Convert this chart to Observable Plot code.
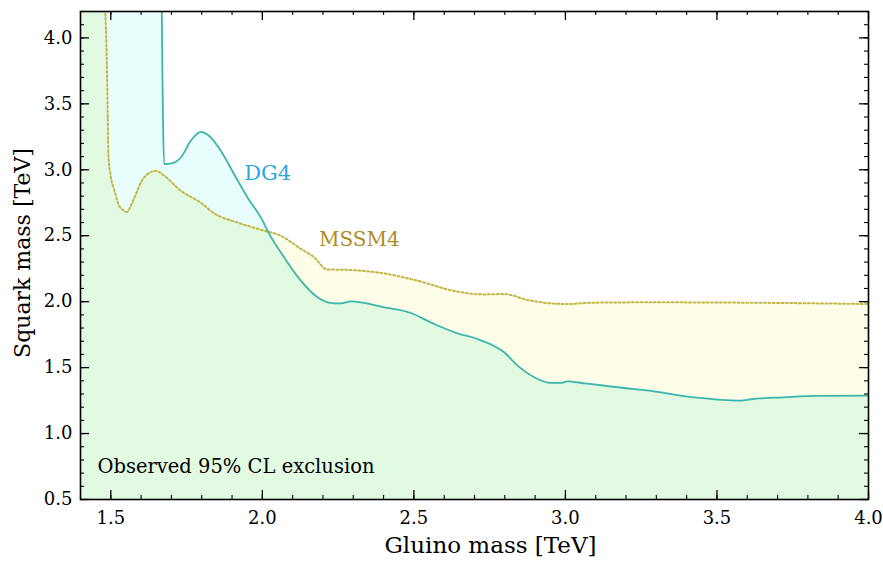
<!DOCTYPE html>
<html><head>
<meta charset="utf-8">
<script src="https://cdn.jsdelivr.net/npm/d3@7"></script>
<script src="https://cdn.jsdelivr.net/npm/@observablehq/plot@0.6"></script>
<style>body{margin:0;background:#fff;} #chart svg{display:block;}</style>
</head><body><div id="chart"></div>
<script>
// DG4 observed exclusion contour (gluino mass, squark mass) in TeV
const dg4X = [1.668, 1.676, 1.700, 1.731, 1.764, 1.797, 1.824, 1.863, 1.906, 1.951, 2.001, 2.017, 2.072, 2.127, 2.182, 2.237, 2.259, 2.292, 2.402, 2.490, 2.567, 2.644, 2.710, 2.760, 2.798, 2.842, 2.897, 2.952, 2.985, 3.007, 3.062, 3.172, 3.315, 3.392, 3.502, 3.579, 3.612, 3.722, 3.832, 4.0];
const dg4Y = [4.25, 3.043, 3.048, 3.093, 3.220, 3.288, 3.258, 3.144, 2.970, 2.790, 2.614, 2.538, 2.336, 2.159, 2.033, 1.987, 1.987, 2.002, 1.957, 1.914, 1.831, 1.760, 1.717, 1.670, 1.616, 1.515, 1.427, 1.384, 1.384, 1.396, 1.381, 1.351, 1.313, 1.283, 1.258, 1.250, 1.260, 1.275, 1.286, 1.288];
// MSSM4 observed exclusion contour
const mssmX = [1.481, 1.487, 1.490, 1.492, 1.500, 1.511, 1.525, 1.544, 1.553, 1.566, 1.580, 1.599, 1.621, 1.649, 1.676, 1.731, 1.797, 1.841, 1.918, 2.006, 2.061, 2.127, 2.171, 2.213, 2.292, 2.402, 2.512, 2.644, 2.732, 2.798, 2.875, 2.952, 3.007, 3.084, 3.282, 3.612, 3.832, 4.0];
const mssmY = [4.25, 3.80, 3.40, 3.12, 2.95, 2.85, 2.74, 2.689, 2.680, 2.727, 2.800, 2.904, 2.967, 2.992, 2.955, 2.841, 2.750, 2.670, 2.600, 2.538, 2.500, 2.400, 2.336, 2.245, 2.240, 2.214, 2.159, 2.076, 2.055, 2.058, 2.013, 1.987, 1.982, 1.992, 1.995, 1.992, 1.987, 1.982];

const seriesNames = ["DG4", "MSSM4"];
const noteText = ["Observed 95% CL exclusion"];
const xTitle = ["Gluino mass [TeV]"];
const yTitle = ["Squark mass [TeV]"];
const xDomain = [1.4, 4.0];
const yDomain = [0.5, 4.2];
const xMajor = [1.5, 2.0, 2.5, 3.0, 3.5, 4.0];
const yMajor = [0.5, 1.0, 1.5, 2.0, 2.5, 3.0, 3.5, 4.0];
const xMinor = d3.range(14, 41).map(d => d / 10);
const yMinor = d3.range(5, 43).map(d => d / 10);

const toPts = (xs, ys) => xs.map((x, i) => ({x, y: ys[i]}));
const dg4 = toPts(dg4X, dg4Y);
const mssm = toPts(mssmX, mssmY);
// fill regions extend to the left edge of the plot
const dg4Fill = [{x: xDomain[0], y: dg4Y[0]}, ...dg4];
const mssmFill = [{x: xDomain[0], y: mssmY[0]}, ...mssm];

const W = 883, H = 561, mT = 11, mB = 62, mL = 80, mR = 15;
const ph = H - mT - mB, pw = W - mL - mR;
const font = "'DejaVu Serif', 'Liberation Serif', serif";
const curve = "monotone-x";

const chart = Plot.plot({
  width: W, height: H,
  marginTop: mT, marginBottom: mB, marginLeft: mL, marginRight: mR,
  style: {fontFamily: font, fontSize: "18px", color: "black", background: "white"},
  x: {domain: xDomain},
  y: {domain: yDomain},
  marks: [
    Plot.areaY(mssmFill, {x: "x", y: "y", curve, fill: "#fefee8", clip: true}),
    Plot.areaY(dg4Fill, {x: "x", y: "y", curve, fill: "#e8fefd", clip: true}),
    Plot.areaY(dg4Fill, {x: "x", y: "y", curve, fill: "#e2fae2", clip: true}),
    Plot.line(mssm, {x: "x", y: "y", curve, stroke: "#c4b646", strokeWidth: 2, strokeDasharray: "2,2.4", clip: true}),
    Plot.line(dg4, {x: "x", y: "y", curve, stroke: "#3cb5aa", strokeWidth: 1.8, clip: true}),
    // ticks inward on four sides
    Plot.ruleX(xMinor, {x: d => d, insetTop: ph - 4, stroke: "black", strokeWidth: 1.1}),
    Plot.ruleX(xMinor, {x: d => d, insetBottom: ph - 4, stroke: "black", strokeWidth: 1.1}),
    Plot.ruleX(xMajor, {x: d => d, insetTop: ph - 9, stroke: "black", strokeWidth: 1.3}),
    Plot.ruleX(xMajor, {x: d => d, insetBottom: ph - 9, stroke: "black", strokeWidth: 1.3}),
    Plot.ruleY(yMinor, {y: d => d, insetRight: pw - 4, stroke: "black", strokeWidth: 1.1}),
    Plot.ruleY(yMinor, {y: d => d, insetLeft: pw - 4, stroke: "black", strokeWidth: 1.1}),
    Plot.ruleY(yMajor, {y: d => d, insetRight: pw - 9, stroke: "black", strokeWidth: 1.3}),
    Plot.ruleY(yMajor, {y: d => d, insetLeft: pw - 9, stroke: "black", strokeWidth: 1.3}),
    Plot.frame({stroke: "black", strokeWidth: 1.6}),
    Plot.axisX({ticks: xMajor, tickSize: 0, tickPadding: 12, tickFormat: d3.format(".1f"), fontSize: 18, label: null}),
    Plot.axisY({ticks: yMajor, tickSize: 0, tickPadding: 8, tickFormat: d3.format(".1f"), fontSize: 18, label: null}),
    Plot.text(xTitle, {frameAnchor: "bottom", lineAnchor: "middle", textAnchor: "middle", dx: 16, dy: 46, text: d => d, fontSize: 23, fill: "black"}),
    Plot.text(yTitle, {frameAnchor: "left", lineAnchor: "middle", textAnchor: "middle", rotate: -90, dx: -58, dy: -2.5, text: d => d, fontSize: 22, fill: "black"}),
    Plot.text([seriesNames[0]], {x: 1.94, y: 2.97, text: d => d, textAnchor: "start", fill: "#2aa7df", fontSize: 21}),
    Plot.text([seriesNames[1]], {x: 2.187, y: 2.47, text: d => d, textAnchor: "start", fill: "#b08b25", fontSize: 20}),
    Plot.text(noteText, {x: 1.456, y: 0.745, text: d => d, textAnchor: "start", fill: "black", fontSize: 19.5})
  ]
});
// overlap of both exclusions: DG4 region clipped to the MSSM4 region
const areas = chart.querySelectorAll("g[aria-label='area'] path");
if (areas.length >= 3) {
  const mssmPath = areas[0], overlapPath = areas[2];
  const ns = "http://www.w3.org/2000/svg";
  const defs = document.createElementNS(ns, "defs");
  const cp = document.createElementNS(ns, "clipPath");
  cp.setAttribute("id", "mssm-clip");
  const p = document.createElementNS(ns, "path");
  p.setAttribute("d", mssmPath.getAttribute("d"));
  cp.append(p); defs.append(cp); chart.prepend(defs);
  overlapPath.setAttribute("clip-path", "url(#mssm-clip)");
}
document.getElementById("chart").append(chart);
</script>
</body></html>
